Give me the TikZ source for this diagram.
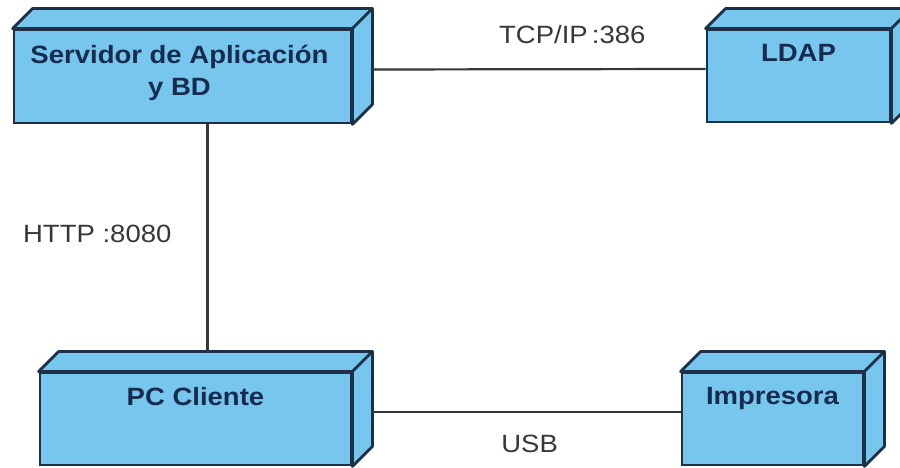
\documentclass[tikz,border=0pt]{standalone}
\usepackage{fontspec}
\setmainfont[FakeStretch=1.1]{Liberation Sans}
\definecolor{azulnodo}{RGB}{118,198,238}
\definecolor{bordenodo}{RGB}{28,48,72}
\definecolor{textonodo}{RGB}{22,44,78}
\definecolor{grislinea}{RGB}{55,55,55}
\tikzset{
  nodo/.style={draw=bordenodo, line width=2.8pt, fill=azulnodo, rectangle, inner sep=0pt},
  cara/.style={draw=bordenodo, line width=2.8pt, fill=azulnodo, line join=round},
  titulo/.style={text=textonodo, font=\bfseries\fontsize{25}{32}\selectfont, align=center, inner sep=0pt, anchor=north, yshift=-16pt},
  linea/.style={draw=grislinea, line width=2.2pt},
  etiqueta/.style={text=grislinea, font=\fontsize{25}{30}\selectfont, inner sep=0pt}
}
\begin{document}
\begin{tikzpicture}[x=1pt,y=1pt]
\useasboundingbox (0,0) rectangle (900,468);
% nodos
\node[nodo, minimum width=337pt, minimum height=93pt, label={[titulo, xshift=-3pt]north:{Servidor de Aplicación\\y BD}}] (srv) at (182.5,391.5) {};
\node[nodo, minimum width=183pt, minimum height=92pt, label={[titulo]north:LDAP}] (ldap) at (798.5,392) {};
\node[nodo, minimum width=311pt, minimum height=92pt, label={[titulo]north:PC Cliente}] (pc) at (195.5,49) {};
\node[nodo, minimum width=181pt, minimum height=92pt, label={[titulo]north:Impresora}] (imp) at (772.5,49) {};
% caras superior y lateral
\foreach \n in {srv,ldap,pc,imp}{
  \draw[cara] (\n.north west) -- ([shift={(20,20)}]\n.north west) -- ([shift={(20,20)}]\n.north east) -- (\n.north east) -- cycle;
  \draw[cara] (\n.north east) -- ([shift={(20,20)}]\n.north east) -- ([shift={(20,20)}]\n.south east) -- (\n.south east) -- cycle;
}
% conexiones
\coordinate (pctop) at ([yshift=20pt]pc.north);
\coordinate (srvbajo) at ([xshift=25pt]srv.south);
\draw[linea] ([shift={(20,7)}]srv.east) -- node[etiqueta, pos=0.6, above=24pt]{TCP/IP\,:386} ([yshift=7pt]ldap.west);
\draw[linea] (srvbajo) -- node[etiqueta, pos=0.48, left=35pt]{HTTP :8080} (srvbajo |- pctop);
\draw[linea] ([shift={(20,7)}]pc.east) -- node[etiqueta, pos=0.51, below=22pt]{USB} ([yshift=7pt]imp.west);
\end{tikzpicture}
\end{document}
